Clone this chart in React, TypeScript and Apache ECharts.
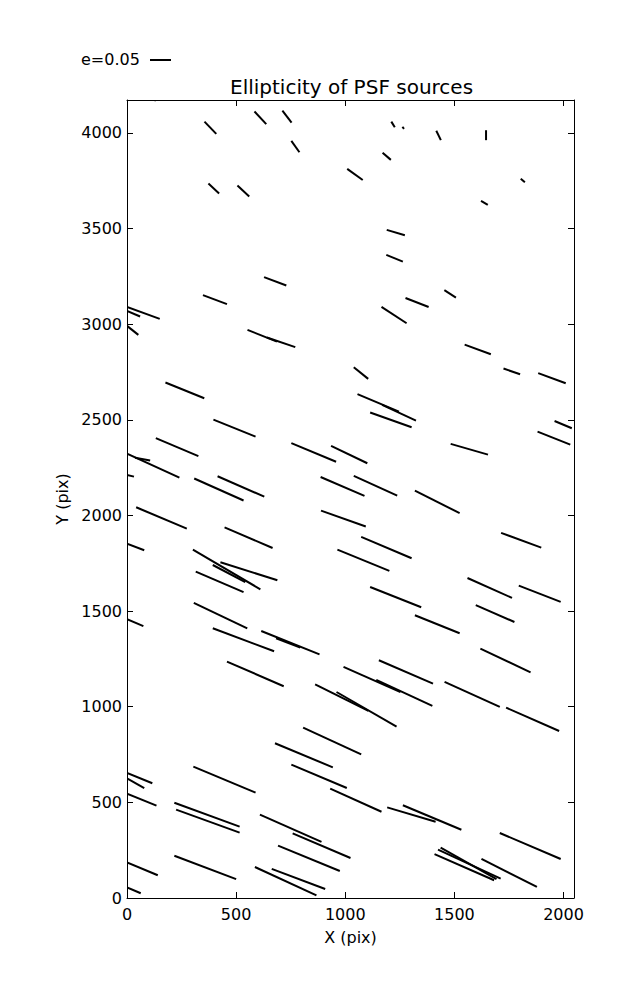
import React, { useEffect, useRef } from "react";
import * as echarts from "echarts";

// Axis ranges (pixels of the detector)
const X_MIN = 0;
const X_MAX = 2048;
const Y_MIN = 0;
const Y_MAX = 4172;
const TICK_STEP = 500;

const TITLE = "Ellipticity of PSF sources";
const X_LABEL = "X (pix)";
const Y_LABEL = "Y (pix)";
const SCALE_LABEL = "e=0.05";

// Whisker segments [x1, y1, x2, y2] in pixel (data) units, grouped by Y band
const segmentsTop: number[][] = [
  [126, 4166, 132, 4180],
  [355, 4059, 409, 3995],
  [584, 4112, 638, 4046],
  [712, 4117, 754, 4054],
  [753, 3958, 790, 3899],
  [1009, 3812, 1080, 3754],
  [373, 3735, 422, 3683],
  [506, 3725, 560, 3667],
  [628, 3246, 730, 3202],
  [348, 3152, 458, 3105],
  [1211, 4059, 1227, 4030],
  [1262, 4032, 1269, 4021],
  [1417, 4011, 1438, 3962],
  [1645, 4014, 1645, 3962],
  [1171, 3896, 1209, 3859],
  [1804, 3760, 1823, 3742],
  [1622, 3645, 1653, 3624],
  [1190, 3493, 1273, 3465],
  [1188, 3362, 1264, 3327],
  [1454, 3178, 1507, 3139],
  [1276, 3137, 1382, 3090],
  [1166, 3090, 1281, 3005],
  [0, 3090, 150, 3028],
  [0, 3069, 60, 3040],
];

const segmentsUpperMid: number[][] = [
  [0, 2991, 52, 2944],
  [552, 2970, 687, 2909],
  [641, 2930, 771, 2880],
  [176, 2695, 354, 2613],
  [396, 2501, 589, 2412],
  [132, 2404, 327, 2310],
  [753, 2378, 958, 2281],
  [935, 2364, 1101, 2273],
  [0, 2323, 240, 2198],
  [37, 2302, 106, 2287],
  [0, 2212, 32, 2203],
  [308, 2193, 534, 2078],
  [415, 2205, 629, 2098],
  [887, 2201, 1088, 2102],
  [1547, 2893, 1667, 2843],
  [1725, 2768, 1801, 2738],
  [1884, 2744, 2010, 2691],
  [1039, 2775, 1105, 2714],
  [1056, 2634, 1246, 2543],
  [1169, 2578, 1324, 2496],
  [1114, 2538, 1304, 2461],
  [1959, 2494, 2038, 2456],
  [1881, 2438, 2031, 2370],
  [1483, 2374, 1654, 2318],
  [1039, 2207, 1238, 2104],
  [1319, 2130, 1524, 2012],
  [42, 2043, 274, 1931],
  [889, 2025, 1094, 1942],
];

const segmentsLowerMid: number[][] = [
  [447, 1938, 667, 1830],
  [0, 1852, 79, 1818],
  [302, 1821, 611, 1614],
  [428, 1755, 689, 1661],
  [393, 1741, 542, 1652],
  [315, 1706, 534, 1599],
  [964, 1821, 1202, 1710],
  [306, 1543, 551, 1410],
  [0, 1458, 75, 1421],
  [393, 1410, 674, 1290],
  [615, 1396, 882, 1274],
  [683, 1358, 794, 1309],
  [458, 1236, 718, 1107],
  [862, 1117, 1106, 978],
  [960, 1077, 1235, 896],
  [1714, 1909, 1898, 1832],
  [1073, 1888, 1304, 1776],
  [1560, 1673, 1764, 1569],
  [1795, 1633, 1987, 1548],
  [1114, 1626, 1348, 1520],
  [1598, 1531, 1775, 1443],
  [1319, 1478, 1524, 1384],
  [1619, 1304, 1849, 1180],
  [1154, 1243, 1402, 1121],
  [992, 1208, 1253, 1076],
  [1142, 1140, 1399, 1004],
  [1455, 1130, 1708, 999],
];

const segmentsBottom: number[][] = [
  [807, 891, 1073, 751],
  [678, 809, 943, 683],
  [753, 697, 1007, 575],
  [931, 572, 1166, 451],
  [304, 687, 589, 551],
  [0, 654, 116, 600],
  [0, 625, 79, 574],
  [0, 546, 135, 483],
  [217, 498, 516, 373],
  [225, 462, 516, 342],
  [609, 436, 891, 293],
  [759, 338, 1024, 209],
  [692, 274, 975, 141],
  [217, 221, 500, 99],
  [0, 186, 141, 119],
  [0, 55, 63, 25],
  [586, 162, 868, 14],
  [663, 152, 908, 47],
  [1737, 995, 1980, 873],
  [1192, 474, 1414, 399],
  [1264, 485, 1532, 357],
  [1708, 340, 1987, 204],
  [1409, 229, 1682, 93],
  [1425, 253, 1712, 101],
  [1437, 263, 1693, 99],
  [1624, 204, 1878, 58],
];

const FONT = "DejaVu Sans";

export default function App() {
  const ref = useRef<HTMLDivElement>(null);

  useEffect(() => {
    document.body.style.margin = "0";
    if (!ref.current) return;
    const chart = echarts.init(ref.current, undefined, { renderer: "svg" });

    const segments = [
      ...segmentsTop,
      ...segmentsUpperMid,
      ...segmentsLowerMid,
      ...segmentsBottom,
    ];

    const tickFmt = (v: number) => (v % TICK_STEP === 0 ? String(v) : "");

    const baseAxis = {
      type: "value" as const,
      axisLine: { show: true, onZero: false, lineStyle: { color: "#000", width: 1 } },
      axisTick: { show: true, inside: true, length: 6, lineStyle: { color: "#000", width: 1 } },
      splitLine: { show: false },
      interval: TICK_STEP,
    };

    const option: any = {
      animation: false,
      backgroundColor: "#fff",
      title: {
        text: TITLE,
        left: 225,
        top: 72,
        textStyle: { fontFamily: FONT, fontSize: 20, fontWeight: "normal", color: "#000" },
      },
      grid: { left: 127, top: 100, width: 447, height: 798, containLabel: false },
      xAxis: [
        {
          ...baseAxis,
          position: "bottom",
          min: X_MIN,
          max: X_MAX,
          name: X_LABEL,
          nameLocation: "middle",
          nameGap: 31,
          nameTextStyle: { fontFamily: FONT, fontSize: 16, color: "#000" },
          axisLabel: {
            show: true,
            margin: 8,
            fontFamily: FONT,
            fontSize: 16,
            color: "#000",
            showMaxLabel: false,
            formatter: tickFmt,
          },
        },
        {
          ...baseAxis,
          position: "top",
          min: X_MIN,
          max: X_MAX,
          axisLabel: { show: false },
        },
      ],
      yAxis: [
        {
          ...baseAxis,
          position: "left",
          min: Y_MIN,
          max: Y_MAX,
          name: Y_LABEL,
          nameLocation: "middle",
          nameGap: 55,
          nameRotate: 90,
          nameTextStyle: { fontFamily: FONT, fontSize: 16, color: "#000" },
          axisLabel: {
            show: true,
            margin: 5,
            fontFamily: FONT,
            fontSize: 16,
            color: "#000",
            showMaxLabel: false,
            formatter: tickFmt,
          },
        },
        {
          ...baseAxis,
          position: "right",
          min: Y_MIN,
          max: Y_MAX,
          axisLabel: { show: false },
        },
      ],
      graphic: [
        {
          type: "text",
          left: 81,
          top: 51,
          style: { text: SCALE_LABEL, fontFamily: FONT, fontSize: 16, fill: "#000" },
        },
        {
          type: "line",
          shape: { x1: 150, y1: 60, x2: 171, y2: 60 },
          style: { stroke: "#000", lineWidth: 2 },
        },
      ],
      series: [
        {
          type: "custom",
          xAxisIndex: 0,
          yAxisIndex: 0,
          clip: true,
          dimensions: ["x1", "y1", "x2", "y2"],
          encode: { x: [0, 2], y: [1, 3] },
          data: segments,
          renderItem: (_params: any, api: any) => {
            const p1 = api.coord([api.value(0), api.value(1)]);
            const p2 = api.coord([api.value(2), api.value(3)]);
            return {
              type: "line",
              shape: { x1: p1[0], y1: p1[1], x2: p2[0], y2: p2[1] },
              style: { stroke: "#000", lineWidth: 2 },
            };
          },
        },
      ],
    };

    chart.setOption(option);
    return () => chart.dispose();
  }, []);

  return <div ref={ref} style={{ width: 637, height: 1000 }} />;
}
